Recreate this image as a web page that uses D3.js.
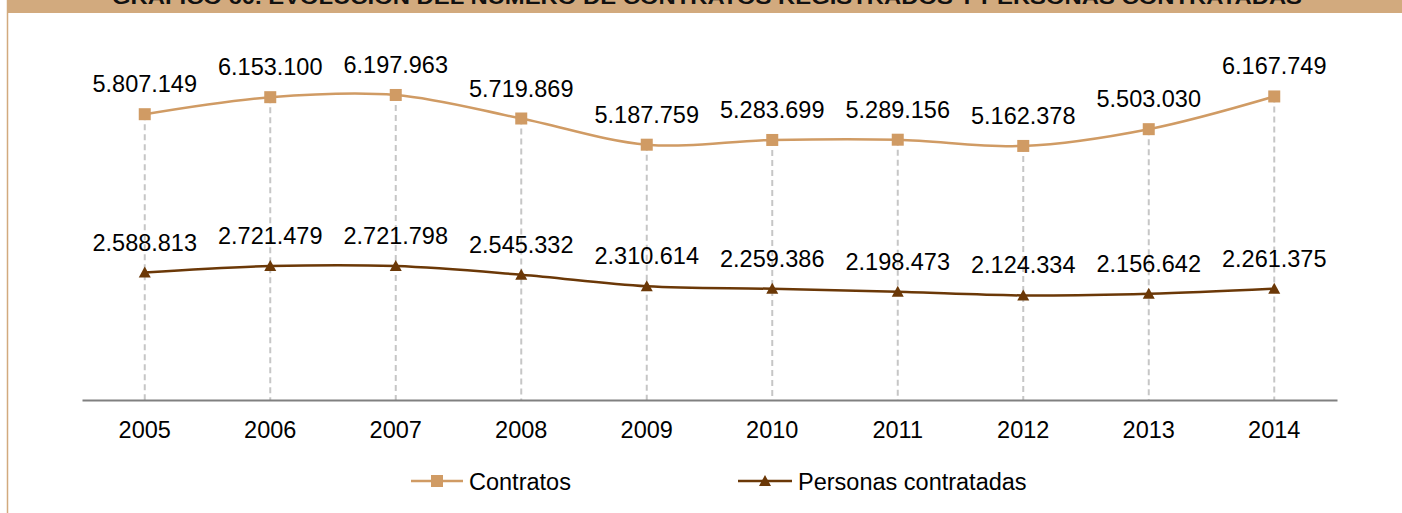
<!DOCTYPE html>
<html><head><meta charset="utf-8">
<script src="https://cdn.jsdelivr.net/npm/d3@7"></script>
<style>html,body{margin:0;padding:0;background:#fff;}svg{display:block;}</style>
</head><body>
<svg id="chart" width="1402" height="513"></svg>
<script>
const title = "GRÁFICO 60. EVOLUCIÓN DEL NÚMERO DE CONTRATOS REGISTRADOS Y PERSONAS CONTRATADAS";
const years = ["2005","2006","2007","2008","2009","2010","2011","2012","2013","2014"];
const contratos = [5807149, 6153100, 6197963, 5719869, 5187759, 5283699, 5289156, 5162378, 5503030, 6167749];
const personas = [2588813, 2721479, 2721798, 2545332, 2310614, 2259386, 2198473, 2124334, 2156642, 2261375];
const seriesNames = ["Contratos", "Personas contratadas"];
const yDomain = [0, 7000000];

const W = 1402, H = 513;
const svg = d3.select("#chart");
const font = "Arial, 'Liberation Sans', sans-serif";
const cContr = "#D09B64", cPers = "#6B3807", band = "#D2AA7E";

// title band & left border
svg.append("rect").attr("x", 7).attr("y", 0).attr("width", W - 7).attr("height", 13).attr("fill", band);
svg.append("line").attr("x1", 7.5).attr("x2", 7.5).attr("y1", 0).attr("y2", H).attr("stroke", band).attr("stroke-width", 1.5);
svg.append("text").attr("x", 707).attr("y", 4).attr("text-anchor", "middle")
  .attr("font-family", font).attr("font-weight", "bold").attr("font-size", 20).attr("fill", "#111")
  .attr("textLength", 1190).attr("lengthAdjust", "spacingAndGlyphs").text(title);

const x = d3.scaleBand().domain(years).range([82, 1337]);
const y = d3.scaleLinear().domain(yDomain).range([400, 55.5]);
const cx = d => x(d) + x.bandwidth() / 2;

const fmt = d3.formatLocale({decimal: ",", thousands: ".", grouping: [3], currency: ["", ""]}).format(",d");

// drop lines
svg.append("g").selectAll("line").data(years).join("line")
  .attr("x1", d => cx(d)).attr("x2", d => cx(d))
  .attr("y1", (d, i) => y(Math.max(contratos[i], personas[i])))
  .attr("y2", y(0))
  .attr("stroke", "#C6C6C6").attr("stroke-width", 2).attr("stroke-dasharray", "6,4");

// x axis
const xAxis = d3.axisBottom(x).tickSize(0).tickPadding(0);
const gx = svg.append("g").attr("transform", `translate(0,${y(0)})`).call(xAxis);
gx.select(".domain").attr("stroke", "#808080").attr("stroke-width", 2);
gx.selectAll("text").attr("font-family", font).attr("font-size", 23.5).attr("fill", "#000")
  .attr("dy", null).attr("y", 38);

const line = d3.line().x((d, i) => cx(years[i])).y(d => y(d)).curve(d3.curveCatmullRom.alpha(0.5));

function drawSeries(vals, color, marker) {
  svg.append("path").datum(vals).attr("d", line).attr("fill", "none")
    .attr("stroke", color).attr("stroke-width", 2.5);
  const g = svg.append("g");
  if (marker === "square") {
    g.selectAll("rect").data(vals).join("rect")
      .attr("x", (d, i) => cx(years[i]) - 6).attr("y", d => y(d) - 6)
      .attr("width", 12).attr("height", 12).attr("fill", color);
  } else {
    g.selectAll("path").data(vals).join("path")
      .attr("d", (d, i) => { const px = cx(years[i]), py = y(d); return `M${px - 6},${py + 5}L${px},${py - 6}L${px + 6},${py + 5}Z`; })
      .attr("fill", color);
  }
  svg.append("g").selectAll("text").data(vals).join("text")
    .attr("x", (d, i) => cx(years[i])).attr("y", d => y(d) - 22)
    .attr("text-anchor", "middle").attr("font-family", font).attr("font-size", 23.5).attr("fill", "#000")
    .text(d => fmt(d));
}
drawSeries(contratos, cContr, "square");
drawSeries(personas, cPers, "triangle");

// legend
const legend = [
  {name: seriesNames[0], color: cContr, marker: "square", x0: 411, x1: 463, tx: 469},
  {name: seriesNames[1], color: cPers, marker: "triangle", x0: 738, x1: 792, tx: 798}
];
const ly = 481;
legend.forEach(l => {
  svg.append("line").attr("x1", l.x0).attr("x2", l.x1).attr("y1", ly).attr("y2", ly)
    .attr("stroke", l.color).attr("stroke-width", 2.5);
  const m = (l.x0 + l.x1) / 2;
  if (l.marker === "square") {
    svg.append("rect").attr("x", m - 6).attr("y", ly - 6).attr("width", 12).attr("height", 12).attr("fill", l.color);
  } else {
    svg.append("path").attr("d", `M${m - 6},${ly + 5}L${m},${ly - 6}L${m + 6},${ly + 5}Z`).attr("fill", l.color);
  }
  svg.append("text").attr("x", l.tx).attr("y", ly + 8.5).attr("font-family", font).attr("font-size", 23.5)
    .attr("fill", "#000").text(l.name);
});
</script>
</body></html>
